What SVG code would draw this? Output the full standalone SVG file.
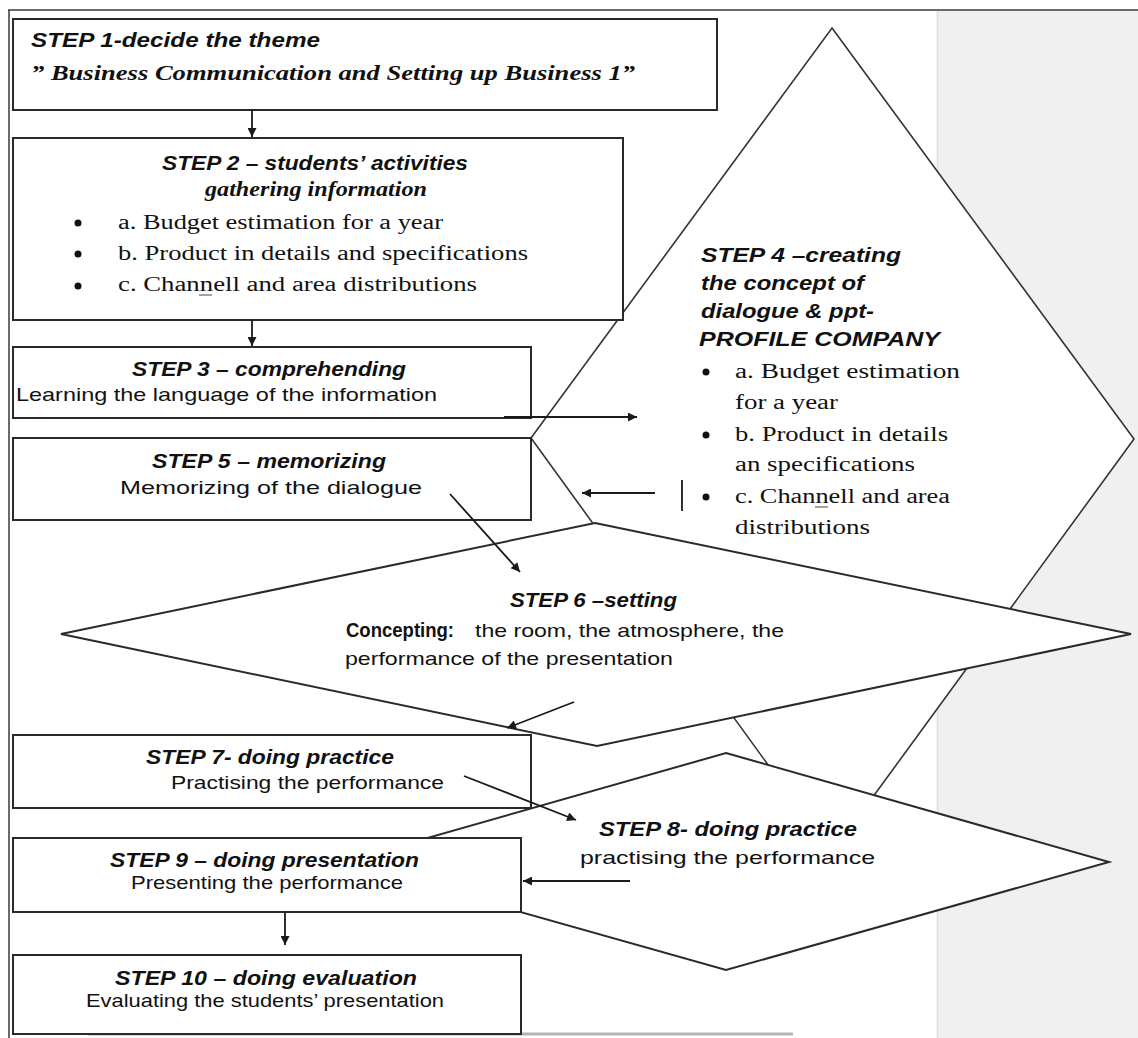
<svg xmlns="http://www.w3.org/2000/svg" width="1138" height="1038" viewBox="0 0 1138 1038">
<style>
.box{fill:#fff;stroke:#2a2a2a;stroke-width:2}
.dia{fill:#fff;stroke:#2a2a2a;stroke-width:2}
.thin{fill:#fff;stroke:#333;stroke-width:1.6}
.con{stroke:#1a1a1a;stroke-width:1.8;fill:none}
.hd{font-family:"Liberation Sans",Arial,sans-serif;font-weight:bold;font-style:italic;font-size:20px;fill:#111}
.hs{font-family:"Liberation Serif","Times New Roman",serif;font-weight:bold;font-style:italic;font-size:21px;fill:#111}
.sr{font-family:"Liberation Serif","Times New Roman",serif;font-size:20px;fill:#111}
.ss{font-family:"Liberation Sans",Arial,sans-serif;font-size:19px;fill:#111}
.ssb{font-family:"Liberation Sans",Arial,sans-serif;font-size:20px;font-weight:bold;fill:#111}
.dot{fill:#111}
.ul{stroke:#444;stroke-width:1}
</style>
<defs>
<marker id="ah" viewBox="0 0 10 10" refX="10" refY="5" markerWidth="11" markerHeight="9" orient="auto" markerUnits="userSpaceOnUse">
<path d="M0,0 L10,5 L0,10 z" fill="#1a1a1a"/>
</marker>
</defs>

<rect x="937" y="11" width="201" height="1027" fill="#f0f0f0"/>
<line x1="937.5" y1="11" x2="937.5" y2="1038" stroke="#e2e2e2" stroke-width="2"/>
<line x1="8" y1="10" x2="1138" y2="10" stroke="#3a3a3a" stroke-width="1.5"/>
<line x1="9" y1="10" x2="9" y2="1038" stroke="#3a3a3a" stroke-width="1.5"/>
<line x1="88" y1="1034" x2="793" y2="1034" stroke="#b4b4b4" stroke-width="3"/>

<g id="step4">
<polygon class="thin" points="832,28 1134,439 832,853 531,438"/>
<text class="hd" x="701" y="262" textLength="200" lengthAdjust="spacingAndGlyphs">STEP 4 –creating</text>
<text class="hd" x="701" y="290" textLength="163" lengthAdjust="spacingAndGlyphs">the concept of</text>
<text class="hd" x="701" y="318" textLength="173" lengthAdjust="spacingAndGlyphs">dialogue &amp; ppt-</text>
<text class="hd" x="699" y="346" textLength="241" lengthAdjust="spacingAndGlyphs">PROFILE COMPANY</text>
<circle class="dot" cx="706" cy="372" r="3.5"/>
<circle class="dot" cx="706" cy="435" r="3.5"/>
<circle class="dot" cx="706" cy="497" r="3.5"/>
<text class="sr" x="735" y="378" textLength="225" lengthAdjust="spacingAndGlyphs">a. Budget  estimation</text>
<text class="sr" x="735" y="409" textLength="103" lengthAdjust="spacingAndGlyphs">for a year</text>
<text class="sr" x="735" y="441" textLength="213" lengthAdjust="spacingAndGlyphs">b. Product in details</text>
<text class="sr" x="735" y="471" textLength="180" lengthAdjust="spacingAndGlyphs">an specifications</text>
<text class="sr" x="735" y="503" textLength="215" lengthAdjust="spacingAndGlyphs">c. Channell and area</text>
<line class="ul" x1="815" y1="507" x2="828" y2="507"/>
<text class="sr" x="735" y="534" textLength="135" lengthAdjust="spacingAndGlyphs">distributions</text>
</g>

<g id="step1">
<rect class="box" x="13" y="19" width="704" height="91"/>
<text class="hd" x="31" y="47" textLength="289" lengthAdjust="spacingAndGlyphs">STEP 1-decide the theme</text>
<text class="hs" x="31" y="80" textLength="604" lengthAdjust="spacingAndGlyphs">” Business Communication and Setting up Business 1”</text>
</g>

<g id="step2">
<rect class="box" x="13" y="138" width="610" height="182"/>
<text class="hd" x="162" y="170" textLength="306" lengthAdjust="spacingAndGlyphs">STEP 2 – students’ activities</text>
<text class="hs" x="205" y="196" textLength="222" lengthAdjust="spacingAndGlyphs">gathering information</text>
<circle class="dot" cx="78" cy="223" r="3.5"/>
<circle class="dot" cx="78" cy="254" r="3.5"/>
<circle class="dot" cx="78" cy="286" r="3.5"/>
<text class="sr" x="118" y="229" textLength="325" lengthAdjust="spacingAndGlyphs">a. Budget estimation for a year</text>
<text class="sr" x="118" y="260" textLength="410" lengthAdjust="spacingAndGlyphs">b. Product in details and specifications</text>
<text class="sr" x="118" y="291" textLength="359" lengthAdjust="spacingAndGlyphs">c. Channell and area distributions</text>
<line class="ul" x1="199" y1="295" x2="212" y2="295"/>
</g>

<g id="step3">
<rect class="box" x="13" y="347" width="518" height="71"/>
<text class="hd" x="132" y="376" textLength="274" lengthAdjust="spacingAndGlyphs">STEP 3 – comprehending</text>
<text class="ss" x="16" y="401" textLength="421" lengthAdjust="spacingAndGlyphs">Learning the language of the information</text>
</g>

<g id="step5">
<rect class="box" x="13" y="438" width="518" height="82"/>
<text class="hd" x="152" y="468" textLength="234" lengthAdjust="spacingAndGlyphs">STEP 5 – memorizing</text>
<text class="ss" x="120" y="494" textLength="302" lengthAdjust="spacingAndGlyphs">Memorizing of the dialogue</text>
</g>

<g id="step6">
<polygon class="dia" points="595,523 1131,634 597,746 61,634"/>
<text class="hd" x="510" y="607" textLength="167" lengthAdjust="spacingAndGlyphs">STEP 6 –setting</text>
<text class="ssb" x="346" y="637" textLength="108" lengthAdjust="spacingAndGlyphs">Concepting:</text>
<text class="ss" x="475" y="637" textLength="309" lengthAdjust="spacingAndGlyphs">the room, the atmosphere, the</text>
<text class="ss" x="345" y="665" textLength="328" lengthAdjust="spacingAndGlyphs">performance of the presentation</text>
</g>

<g id="step7">
<rect class="box" x="13" y="735" width="518" height="73"/>
<text class="hd" x="146" y="764" textLength="248" lengthAdjust="spacingAndGlyphs">STEP 7- doing practice</text>
<text class="ss" x="171" y="789" textLength="273" lengthAdjust="spacingAndGlyphs">Practising the performance</text>
</g>

<g id="step8">
<polygon class="dia" points="726,753 1109,862 726,970 343,862"/>
<text class="hd" x="599" y="836" textLength="258" lengthAdjust="spacingAndGlyphs">STEP 8- doing practice</text>
<text class="ss" x="580" y="864" textLength="295" lengthAdjust="spacingAndGlyphs">practising the performance</text>
</g>

<g id="step9">
<rect class="box" x="13" y="838" width="508" height="74"/>
<text class="hd" x="110" y="867" textLength="309" lengthAdjust="spacingAndGlyphs">STEP 9 – doing presentation</text>
<text class="ss" x="131" y="889" textLength="272" lengthAdjust="spacingAndGlyphs">Presenting the performance</text>
</g>

<g id="step10">
<rect class="box" x="13" y="955" width="508" height="79"/>
<text class="hd" x="115" y="985" textLength="302" lengthAdjust="spacingAndGlyphs">STEP 10 – doing evaluation</text>
<text class="ss" x="86" y="1007" textLength="358" lengthAdjust="spacingAndGlyphs">Evaluating the students’ presentation</text>
</g>

<g id="connectors">
<line class="con" x1="252" y1="110" x2="252" y2="137" marker-end="url(#ah)"/>
<line class="con" x1="252" y1="320" x2="252" y2="346" marker-end="url(#ah)"/>
<line class="con" x1="504" y1="417" x2="637" y2="417" marker-end="url(#ah)"/>
<line class="con" x1="655" y1="493" x2="582" y2="493" marker-end="url(#ah)"/>
<line class="con" x1="450" y1="494" x2="520" y2="572" marker-end="url(#ah)"/>
<line class="con" x1="574" y1="702" x2="507" y2="728" marker-end="url(#ah)"/>
<line class="con" x1="464" y1="776" x2="576" y2="820" marker-end="url(#ah)"/>
<line class="con" x1="630" y1="881" x2="523" y2="881" marker-end="url(#ah)"/>
<line class="con" x1="285" y1="913" x2="285" y2="945" marker-end="url(#ah)"/>
<line class="con" x1="682" y1="480" x2="682" y2="511"/>
</g>
</svg>
